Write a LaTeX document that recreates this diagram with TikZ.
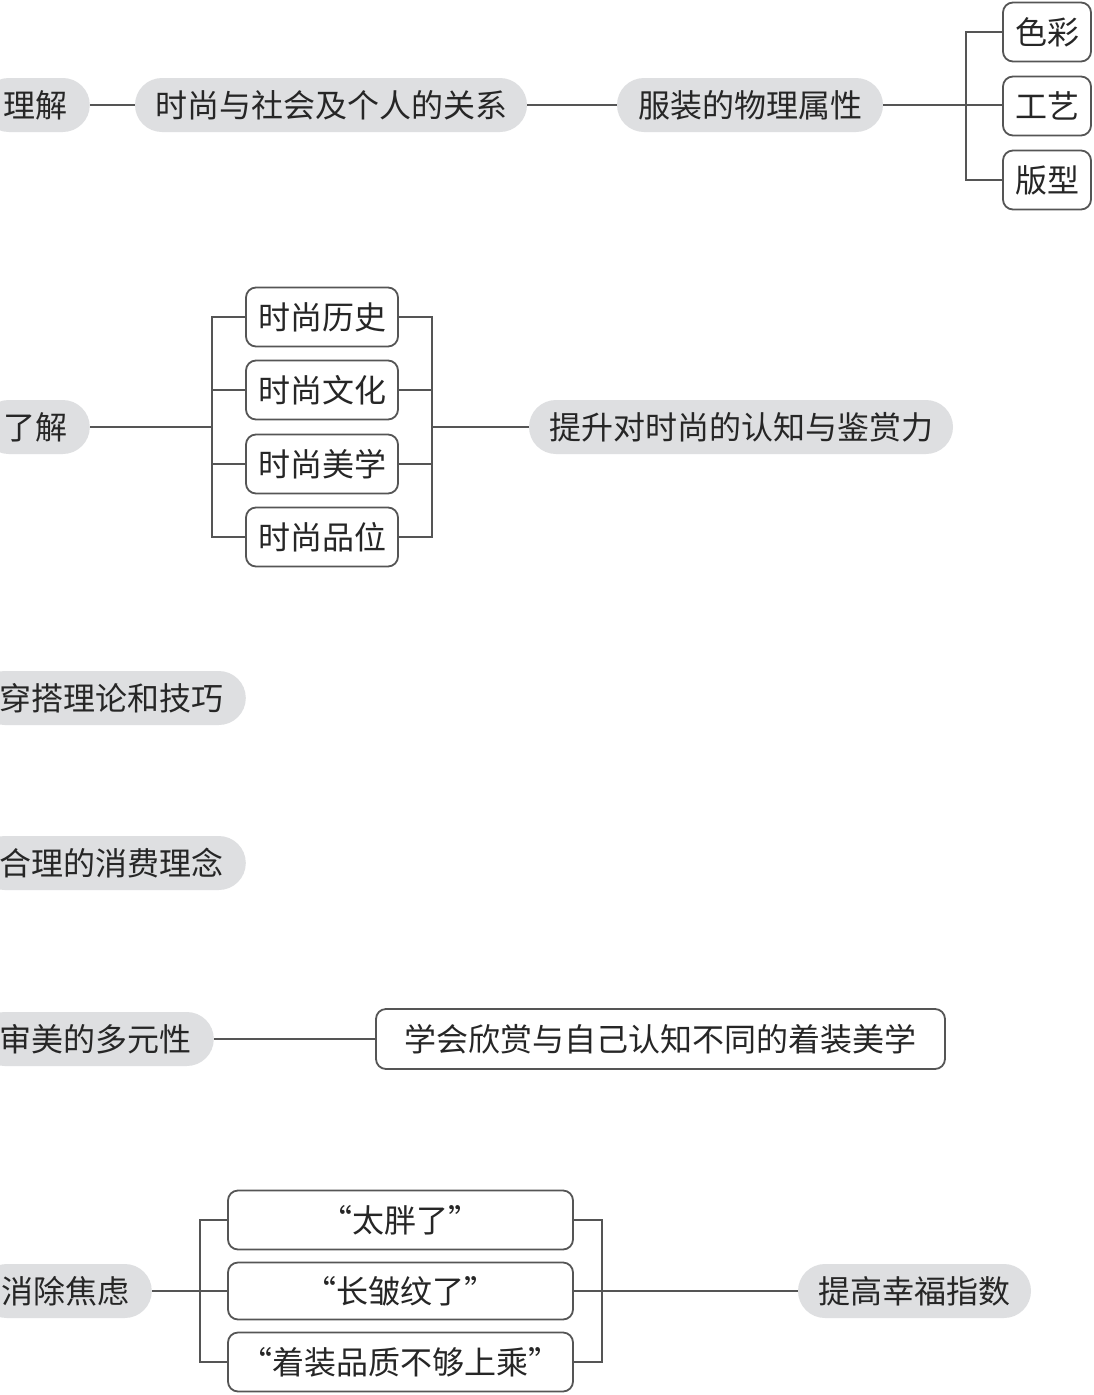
\documentclass[tikz,border=0pt]{standalone}
\usepackage{fontspec}
\newfontfamily\cjk{Noto Sans CJK SC}
\definecolor{pillgray}{HTML}{DEDFE1}
\definecolor{inkc}{HTML}{262626}
\definecolor{linec}{HTML}{555555}
\tikzset{
  base/.style={font=\cjk\fontsize{32}{38}\selectfont, text=inkc, inner sep=0pt, align=center},
  pill/.style={base, fill=pillgray, rounded corners=27pt, minimum height=54pt, inner xsep=4pt},
  leftpill/.style={pill, anchor=east, inner xsep=22pt},
  box/.style={base, draw=linec, line width=1.8pt, rounded corners=10pt, fill=white, minimum height=59pt, inner xsep=2pt},
  conn/.style={draw=linec, line width=1.8pt}
}
\begin{document}
\begin{tikzpicture}[x=1pt,y=-1pt]
\clip (0,0) rectangle (1094,1395);
\useasboundingbox (0,0) rectangle (1094,1395);
\fill[white] (0,0) rectangle (1094,1395);

% Row 1
\node[leftpill] (l1) at (90,105) {理解};
\node[pill, minimum width=392pt] (p11) at (331,105) {时尚与社会及个人的关系};
\node[pill, minimum width=266pt] (p12) at (750,105) {服装的物理属性};
\node[box, minimum width=88pt] (b1) at (1047,32) {色彩};
\node[box, minimum width=88pt] (b2) at (1047,106) {工艺};
\node[box, minimum width=88pt] (b3) at (1047,180) {版型};
\coordinate (j1) at (966,105);
\draw[conn] (l1.east) -- (p11.west);
\draw[conn] (p11.east) -- (p12.west);
\draw[conn] (p12.east) -- (j1);
\draw[conn] (b1.west) -| (j1);
\draw[conn] (b3.west) -| (j1);
\draw[conn] (j1) -- (b2.west |- j1);

% Row 2
\node[leftpill] (l2) at (90,427) {了解};
\node[box, minimum width=152pt] (t1) at (322,317) {时尚历史};
\node[box, minimum width=152pt] (t2) at (322,390) {时尚文化};
\node[box, minimum width=152pt] (t3) at (322,464) {时尚美学};
\node[box, minimum width=152pt] (t4) at (322,537) {时尚品位};
\node[pill, minimum width=424pt] (p22) at (741,427) {提升对时尚的认知与鉴赏力};
\coordinate (jL2) at (212,427);
\coordinate (jR2) at (432,427);
\draw[conn] (l2.east) -- (jL2);
\draw[conn] (t1.west) -| (jL2);
\draw[conn] (t2.west) -| (jL2);
\draw[conn] (t3.west) -| (jL2);
\draw[conn] (t4.west) -| (jL2);
\draw[conn] (t1.east) -| (jR2);
\draw[conn] (t2.east) -| (jR2);
\draw[conn] (t3.east) -| (jR2);
\draw[conn] (t4.east) -| (jR2);
\draw[conn] (jR2) -- (p22.west);

% Row 3, 4
\node[leftpill] (l3) at (246,698) {穿搭理论和技巧};
\node[leftpill] (l4) at (246,863) {合理的消费理念};

% Row 5
\node[leftpill] (l5) at (214,1039) {审美的多元性};
\node[box, minimum width=569pt, minimum height=60pt] (b5) at (660.5,1039) {学会欣赏与自己认知不同的着装美学};
\draw[conn] (l5.east) -- (b5.west);

% Row 6
\node[leftpill] (l6) at (152,1291) {消除焦虑};
\node[box, minimum width=345pt] (q1) at (400.5,1220) {“太胖了”};
\node[box, minimum width=345pt, minimum height=57pt] (q2) at (400.5,1291) {“长皱纹了”};
\node[box, minimum width=345pt] (q3) at (400.5,1362) {“着装品质不够上乘”};
\node[pill, minimum width=233pt] (p62) at (914.5,1291) {提高幸福指数};
\coordinate (jL6) at (200,1291);
\coordinate (jR6) at (602,1291);
\draw[conn] (l6.east) -- (jL6);
\draw[conn] (q1.west) -| (jL6);
\draw[conn] (q2.west) -- (jL6);
\draw[conn] (q3.west) -| (jL6);
\draw[conn] (q1.east) -| (jR6);
\draw[conn] (q2.east) -- (jR6);
\draw[conn] (q3.east) -| (jR6);
\draw[conn] (jR6) -- (p62.west);
\end{tikzpicture}
\end{document}
